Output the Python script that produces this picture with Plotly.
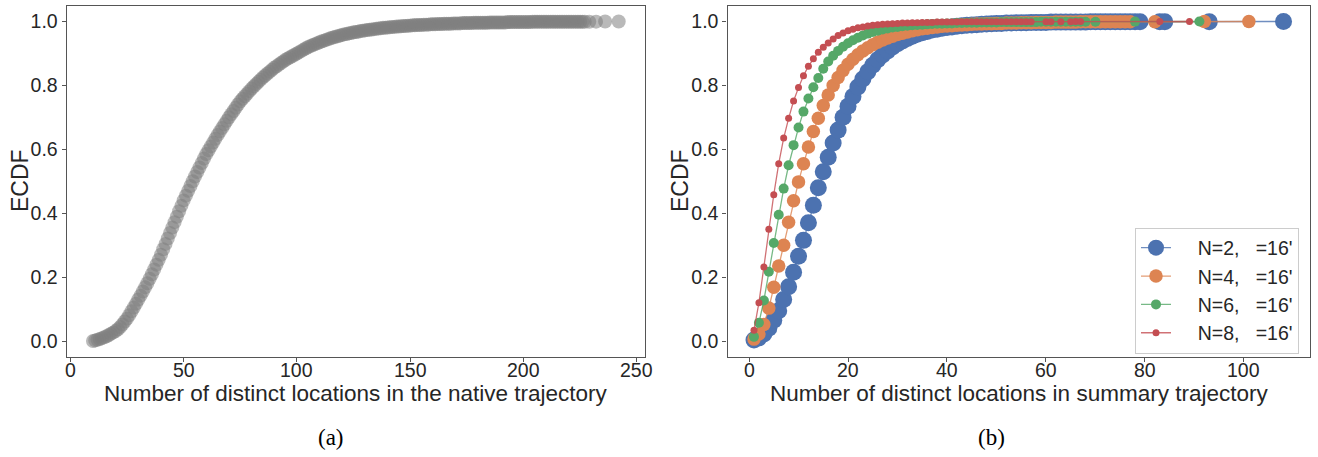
import plotly.graph_objects as go

# ---------------- data: panel (a) ----------------
native_x = list(range(10, 228)) + [229, 232, 236, 242]
native_ecdf = [
    0.000, 0.002, 0.004, 0.006, 0.009, 0.012, 0.015, 0.019, 0.023, 0.027,
    0.031, 0.037, 0.044, 0.052, 0.061, 0.070, 0.081, 0.093, 0.105, 0.117,
    0.130, 0.142, 0.155, 0.168, 0.181, 0.195, 0.209, 0.224, 0.239, 0.254,
    0.270, 0.287, 0.304, 0.321, 0.338, 0.355, 0.372, 0.389, 0.406, 0.423,
    0.440, 0.455, 0.470, 0.485, 0.500, 0.515, 0.529, 0.543, 0.557, 0.571,
    0.585, 0.597, 0.609, 0.621, 0.633, 0.645, 0.656, 0.667, 0.678, 0.689,
    0.700, 0.710, 0.720, 0.730, 0.740, 0.750, 0.758, 0.766, 0.774, 0.782,
    0.790, 0.797, 0.804, 0.811, 0.818, 0.825, 0.831, 0.837, 0.843, 0.849,
    0.855, 0.860, 0.865, 0.870, 0.875, 0.880, 0.884, 0.888, 0.892, 0.896,
    0.900, 0.904, 0.908, 0.912, 0.916, 0.920, 0.923, 0.926, 0.929, 0.932,
    0.935, 0.938, 0.940, 0.943, 0.945, 0.948, 0.950, 0.952, 0.954, 0.956,
    0.958, 0.960, 0.961, 0.963, 0.964, 0.966, 0.967, 0.968, 0.970, 0.971,
    0.972, 0.973, 0.974, 0.975, 0.976, 0.977, 0.978, 0.979, 0.980, 0.980,
    0.981, 0.982, 0.983, 0.983, 0.984, 0.984, 0.985, 0.986, 0.986, 0.987,
    0.987, 0.988, 0.988, 0.989, 0.989, 0.989, 0.990, 0.990, 0.990, 0.991,
    0.991, 0.991, 0.992, 0.992, 0.992, 0.993, 0.993, 0.993, 0.993, 0.994,
    0.994, 0.994, 0.994, 0.995, 0.995, 0.995, 0.995, 0.995, 0.996, 0.996,
    0.996, 0.996, 0.996, 0.996, 0.996, 0.997, 0.997, 0.997, 0.997, 0.997,
    0.997, 0.997, 0.997, 0.998, 0.998, 0.998, 0.998, 0.998, 0.998, 0.998,
    0.998, 0.998, 0.998, 0.998, 0.999, 0.999, 0.999, 0.999, 0.999, 0.999,
    0.999, 0.999, 0.999, 0.999, 0.999, 0.999, 0.999, 0.999, 0.999, 0.999,
    0.999, 0.999, 0.999, 0.999, 0.999, 0.999, 0.999, 0.999,
    0.999, 0.9995, 0.9997, 1.000,
]

# ---------------- data: panel (b) ----------------
n2_x = list(range(1, 80)) + [83, 84, 93, 108]
n2_ecdf = [
    0.003, 0.010, 0.022, 0.040, 0.065, 0.095, 0.130, 0.170, 0.215, 0.265,
    0.315, 0.370, 0.425, 0.480, 0.530, 0.575, 0.620, 0.660, 0.700, 0.735,
    0.765, 0.795, 0.820, 0.843, 0.863, 0.880, 0.895, 0.908, 0.920, 0.930,
    0.939, 0.947, 0.954, 0.960, 0.965, 0.969, 0.973, 0.976, 0.979, 0.981,
    0.983, 0.985, 0.987, 0.988, 0.989, 0.990, 0.991, 0.992, 0.993, 0.994,
    0.994, 0.995, 0.995, 0.996, 0.996, 0.996, 0.997, 0.997, 0.997, 0.997,
    0.998, 0.998, 0.998, 0.998, 0.998, 0.998, 0.998, 0.998, 0.999, 0.999,
    0.999, 0.999, 0.999, 0.999, 0.999, 0.999, 0.999, 0.999, 0.999,
    0.999, 0.999, 0.9995, 1.000,
]
n4_x = list(range(1, 78)) + [82, 92, 101]
n4_ecdf = [
    0.006, 0.022, 0.052, 0.103, 0.168, 0.235, 0.300, 0.372, 0.439, 0.498,
    0.555, 0.607, 0.656, 0.697, 0.737, 0.770, 0.800, 0.825, 0.847, 0.866,
    0.882, 0.896, 0.908, 0.918, 0.927, 0.935, 0.942, 0.948, 0.954, 0.959,
    0.963, 0.967, 0.971, 0.974, 0.977, 0.979, 0.981, 0.983, 0.985, 0.986,
    0.987, 0.988, 0.989, 0.990, 0.991, 0.992, 0.992, 0.993, 0.993, 0.994,
    0.994, 0.995, 0.995, 0.995, 0.996, 0.996, 0.996, 0.997, 0.997, 0.997,
    0.997, 0.998, 0.998, 0.998, 0.998, 0.998, 0.999, 0.999, 0.999, 0.999,
    0.999, 0.999, 0.999, 0.999, 0.999, 0.999, 0.999,
    0.9993, 0.9997, 1.000,
]
n6_x = list(range(1, 69)) + [70, 78, 91]
n6_ecdf = [
    0.013, 0.057, 0.127, 0.217, 0.307, 0.395, 0.477, 0.550, 0.613, 0.668,
    0.718, 0.759, 0.794, 0.823, 0.852, 0.875, 0.893, 0.908, 0.921, 0.932,
    0.941, 0.949, 0.956, 0.962, 0.967, 0.971, 0.975, 0.978, 0.981, 0.983,
    0.985, 0.987, 0.988, 0.989, 0.990, 0.991, 0.992, 0.993, 0.993, 0.994,
    0.994, 0.995, 0.995, 0.996, 0.996, 0.996, 0.997, 0.997, 0.997, 0.997,
    0.998, 0.998, 0.998, 0.998, 0.998, 0.998, 0.998, 0.998, 0.999, 0.999,
    0.999, 0.999, 0.999, 0.999, 0.999, 0.999, 0.999, 0.999,
    0.9993, 0.9996, 1.000,
]
n8_x = list(range(1, 58)) + [60, 61, 63, 65, 66, 67, 83, 89]
n8_ecdf = [
    0.034, 0.120, 0.232, 0.350, 0.458, 0.555, 0.635, 0.697, 0.751, 0.793,
    0.830, 0.860, 0.883, 0.904, 0.919, 0.933, 0.945, 0.956, 0.964, 0.971,
    0.976, 0.980, 0.983, 0.986, 0.988, 0.990, 0.991, 0.992, 0.993, 0.994,
    0.995, 0.995, 0.996, 0.996, 0.997, 0.997, 0.997, 0.998, 0.998, 0.998,
    0.998, 0.998, 0.999, 0.999, 0.999, 0.999, 0.999, 0.999, 0.999, 0.999,
    0.999, 0.999, 0.999, 0.999, 0.999, 0.999, 0.999,
    0.9992, 0.9993, 0.9994, 0.9995, 0.9996, 0.9997, 0.9998, 1.000,
]

series_names = ["N=2,   =16'", "N=4,   =16'", "N=6,   =16'", "N=8,   =16'"]
series_x = [n2_x, n4_x, n6_x, n8_x]
series_y = [n2_ecdf, n4_ecdf, n6_ecdf, n8_ecdf]
series_colors = ["#4C72B0", "#DD8452", "#55A868", "#C44E52"]
series_line_rgba = ["rgba(76,114,176,0.8)", "rgba(221,132,82,0.8)",
                    "rgba(85,168,104,0.8)", "rgba(196,78,82,0.8)"]
series_sizes = [17, 13.5, 10, 7]

xticks_a = [0, 50, 100, 150, 200, 250]
xticks_b = [0, 20, 40, 60, 80, 100]
yticks = [0.0, 0.2, 0.4, 0.6, 0.8, 1.0]

caption_a = "(a)"
caption_b = "(b)"
xlabel_a = "Number of distinct locations in the native trajectory"
xlabel_b = "Number of distinct locations in summary trajectory"
ylabel = "ECDF"

W, H = 1318, 457
FONT = "Liberation Sans, Arial, sans-serif"
TXT = "#262626"
FRAME = "#555555"
TICKSIZE = 19.5

fig = go.Figure()

fig.add_trace(go.Scatter(
    x=native_x, y=native_ecdf, mode="markers",
    marker=dict(color="gray", size=14, opacity=0.55, line=dict(width=0)),
    showlegend=False, xaxis="x", yaxis="y",
))

for name, xs, ys, c, lc, s in zip(series_names, series_x, series_y,
                                  series_colors, series_line_rgba, series_sizes):
    fig.add_trace(go.Scatter(
        x=xs, y=ys, mode="lines+markers",
        name="\u00a0\u00a0\u00a0\u00a0" + name,
        line=dict(color=lc, width=1.3),
        marker=dict(color=c, size=s, line=dict(width=0)),
        xaxis="x2", yaxis="y2",
    ))


def px_x(p):
    return p / W


def px_y(p):
    return 1 - p / H


ydom = [px_y(357), px_y(5.5)]
common_axis = dict(
    showline=True, mirror=True, linecolor=FRAME, linewidth=1.3,
    ticks="outside", ticklen=4, tickwidth=1, tickcolor=FRAME,
    showgrid=False, zeroline=False,
    tickfont=dict(family=FONT, size=TICKSIZE, color=TXT),
)

fig.update_layout(
    width=W, height=H,
    margin=dict(l=0, r=0, t=0, b=0),
    paper_bgcolor="white", plot_bgcolor="white",
    font=dict(family=FONT, color=TXT),
    xaxis=dict(domain=[px_x(66.7), px_x(645)], range=[-1.6, 253.6],
               tickvals=xticks_a, showticklabels=False, anchor="y", **common_axis),
    yaxis=dict(domain=ydom, range=[-0.05, 1.05],
               tickvals=yticks, tickformat=".1f",
               anchor="x", **common_axis),
    xaxis2=dict(domain=[px_x(727.5), px_x(1310)], range=[-4.35, 113.35],
                tickvals=xticks_b, showticklabels=False, anchor="y2", **common_axis),
    yaxis2=dict(domain=ydom, range=[-0.05, 1.05],
                tickvals=yticks, tickformat=".1f",
                anchor="x2", **common_axis),
    legend=dict(
        x=px_x(1135), y=px_y(227.5), xanchor="left", yanchor="top",
        bgcolor="white", bordercolor="#cccccc", borderwidth=1,
        font=dict(family=FONT, size=19.5, color=TXT),
        itemsizing="trace", tracegroupgap=0,
    ),
)

annotations = []
for xref, ticks in (("x", xticks_a), ("x2", xticks_b)):
    for t in ticks:
        annotations.append(dict(
            text=str(t), x=t, y=px_y(370), xref=xref, yref="paper",
            showarrow=False, xanchor="center", yanchor="middle",
            font=dict(family=FONT, size=TICKSIZE, color=TXT)))

annotations += [
    dict(text=xlabel_a, x=px_x(355), y=px_y(393), xref="paper", yref="paper",
         showarrow=False, xanchor="center", yanchor="middle",
         font=dict(family=FONT, size=22.5, color=TXT)),
    dict(text=xlabel_b, x=px_x(1019), y=px_y(393), xref="paper", yref="paper",
         showarrow=False, xanchor="center", yanchor="middle",
         font=dict(family=FONT, size=22.5, color=TXT)),
    dict(text=ylabel, x=px_x(20), y=px_y(181), xref="paper", yref="paper",
         showarrow=False, xanchor="center", yanchor="middle", textangle=-90,
         font=dict(family=FONT, size=23, color=TXT)),
    dict(text=ylabel, x=px_x(680), y=px_y(181), xref="paper", yref="paper",
         showarrow=False, xanchor="center", yanchor="middle", textangle=-90,
         font=dict(family=FONT, size=23, color=TXT)),
    dict(text=caption_a, x=px_x(331), y=px_y(437), xref="paper", yref="paper",
         showarrow=False, xanchor="center", yanchor="middle",
         font=dict(family="Liberation Serif, serif", size=23, color="black")),
    dict(text=caption_b, x=px_x(991), y=px_y(437), xref="paper", yref="paper",
         showarrow=False, xanchor="center", yanchor="middle",
         font=dict(family="Liberation Serif, serif", size=23, color="black")),
]
fig.update_layout(annotations=annotations)

fig.write_html("out.html")
